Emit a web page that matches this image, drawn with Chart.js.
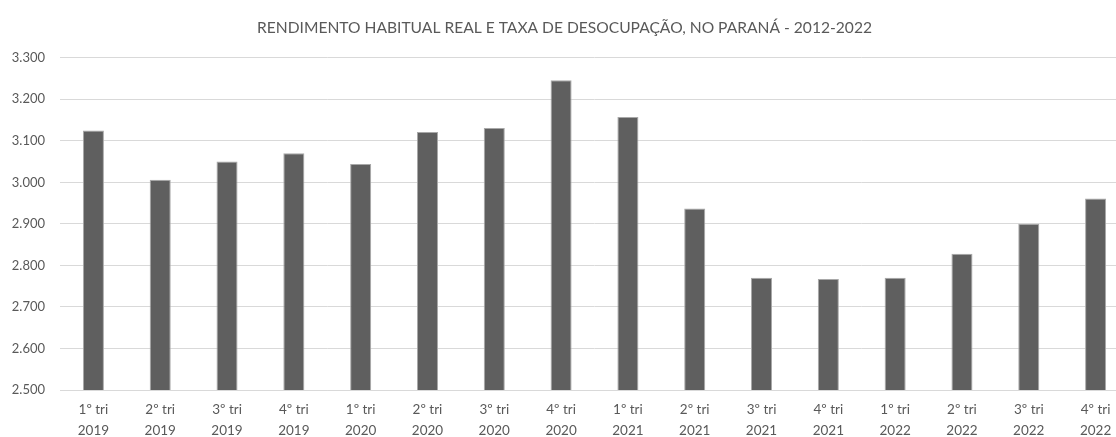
<!DOCTYPE html>
<html>
<head>
<meta charset="utf-8">
<script src="https://cdn.jsdelivr.net/npm/chart.js@4"></script>
<style>
  html, body { margin: 0; padding: 0; background: #ffffff; overflow: hidden; }
  #wrap { width: 1135px; height: 437px; }
</style>
</head>
<body>
<div id="wrap"><canvas id="c" width="1135" height="437"></canvas></div>
<script>
const quarters = ["1º tri","2º tri","3º tri","4º tri","1º tri","2º tri","3º tri","4º tri","1º tri","2º tri","3º tri","4º tri","1º tri","2º tri","3º tri","4º tri"];
const years = ["2019","2019","2019","2019","2020","2020","2020","2020","2021","2021","2021","2021","2022","2022","2022","2022"];
const rendimento = [3125, 3006, 3050, 3070, 3044, 3121, 3131, 3246, 3157, 2937, 2770, 2767, 2770, 2828, 2900, 2961];
const yTicks = [2500, 2600, 2700, 2800, 2900, 3000, 3100, 3200, 3300];
const title = "RENDIMENTO HABITUAL REAL E TAXA DE DESOCUPAÇÃO, NO PARANÁ - 2012-2022";

const labels = quarters.map((q, i) => [q, years[i]]);
function fmt(v) {
  const s = String(Math.round(v));
  return s.replace(/\B(?=(\d{3})+(?!\d))/g, ".");
}
const textColor = "#595959";
const fontFamily = "Lato, 'Open Sans', sans-serif";

new Chart(document.getElementById("c"), {
  type: "bar",
  data: {
    labels: labels,
    datasets: [{
      data: rendimento,
      backgroundColor: "#5f5f5f",
      borderColor: "#a8a8a8",
      borderWidth: 1,
      categoryPercentage: 1.0,
      barPercentage: 0.315
    }]
  },
  options: {
    responsive: false,
    animation: false,
    layout: { padding: { top: 6, right: 6, left: 0, bottom: 0 } },
    plugins: {
      legend: { display: false },
      tooltip: { enabled: false },
      title: {
        display: true,
        text: title,
        color: textColor,
        font: { family: fontFamily, size: 15.6, weight: "normal" },
        padding: { top: 13, bottom: 20 }
      }
    },
    scales: {
      x: {
        offset: true,
        grid: { display: false, drawTicks: false },
        border: { display: true, color: "#d9d9d9", width: 1 },
        ticks: {
          color: textColor,
          font: { family: fontFamily, size: 13.5, lineHeight: 1.5 },
          padding: 10,
          maxRotation: 0,
          autoSkip: false
        },
        afterFit: (s) => { s.height = 47; }
      },
      y: {
        min: 2500,
        max: 3300,
        afterBuildTicks: (s) => { s.ticks = yTicks.map(v => ({ value: v })); },
        grid: { color: "#d9d9d9", drawTicks: false, lineWidth: 1 },
        border: { display: false },
        ticks: {
          color: textColor,
          font: { family: fontFamily, size: 13 },
          padding: 15,
          callback: (v) => fmt(v)
        },
        afterFit: (s) => { s.width = 60; }
      }
    }
  }
});
</script>
</body>
</html>
